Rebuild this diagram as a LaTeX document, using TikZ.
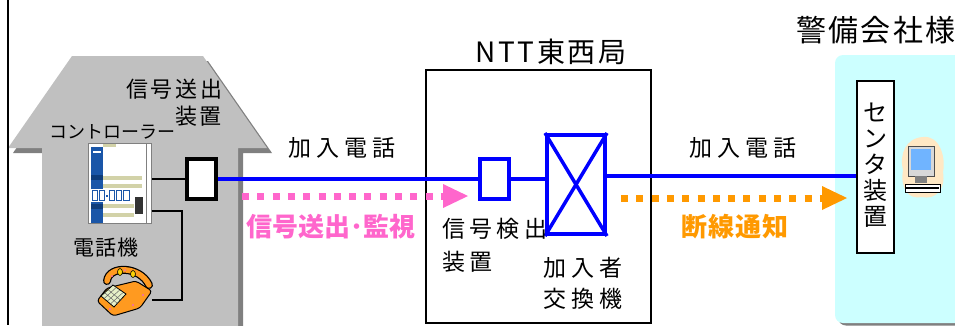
\documentclass[tikz,border=0pt]{standalone}
\usepackage{fontspec}
\usetikzlibrary{arrows.meta}
\newfontfamily\jp{Noto Sans CJK JP}
% size, baselineskip, letter spacing (percent of em)
\newcommand\jpset[3]{\jp\fontsize{#1}{#2}\selectfont\addfontfeatures{LetterSpace=#3}}
\newcommand\jpbold[3]{\jp\bfseries\fontsize{#1}{#2}\selectfont\addfontfeatures{LetterSpace=#3}}
\definecolor{roofgray}{HTML}{C0C0C0}
\definecolor{shadegray}{HTML}{808080}
\definecolor{linkblue}{HTML}{0000FF}
\definecolor{sigpink}{HTML}{FF66CC}
\definecolor{alertorange}{HTML}{FF9900}
\definecolor{officecyan}{HTML}{CCFFFF}
\definecolor{khaki}{HTML}{D2D2A8}
\definecolor{panelblue}{HTML}{1A56A8}
\definecolor{deepblue}{HTML}{0E3C7A}
\definecolor{darkpanel}{HTML}{333333}
\definecolor{peach}{HTML}{FFE8C4}
\definecolor{screenblue}{HTML}{70B4FF}
\definecolor{screenframe}{HTML}{D8D8D8}
\definecolor{phoneorange}{HTML}{FF9A20}
\definecolor{keypad}{HTML}{E6F0C8}
\begin{document}
\begin{tikzpicture}[x=1pt,y=-1pt,
  txt/.style={inner sep=0pt,outer sep=0pt},
  wire/.style={line width=2pt,draw=black},
  bluelink/.style={line width=3.5pt,draw=linkblue},
  bluebox/.style={draw=linkblue,line width=3.5pt,fill=white,inner sep=0pt},
  flow/.style={line width=7pt,draw=#1,dash pattern=on 7pt off 8.3pt,
    -{Triangle[length=25pt,width=24pt,line width=0pt]}}
]
\useasboundingbox (0,0) rectangle (955,325);

% ---- house of the subscriber ----
\fill[shadegray,shift={(5,5)}] (8,148) -- (72,56) -- (203,56) -- (267,148)
  -- (238,148) -- (238,340) -- (42,340) -- (42,148) -- cycle;
\fill[roofgray] (8,148) -- (72,56) -- (203,56) -- (267,148)
  -- (238,148) -- (238,340) -- (42,340) -- (42,148) -- cycle;
\draw[line width=1.8pt] (8.3,0) -- (8.3,325);

% ---- security company area ----
\fill[shadegray,rounded corners=8pt] (838,58) rectangle (975,325.5);
\fill[officecyan,rounded corners=8pt] (835,55) rectangle (975,323);

% ---- telephone exchange building ----
\node[draw,line width=1.8pt,minimum width=225pt,minimum height=253pt,inner sep=0pt]
  (ntt) at (538.5,196.5) {};

% ---- equipment ----
\node[draw=shadegray,line width=1pt,fill=white,minimum width=63pt,minimum height=80pt,inner sep=0pt]
  (ctrl) at (119.5,183) {};
\node[draw,line width=3.8pt,fill=white,minimum width=29pt,minimum height=40pt,inner sep=0pt]
  (sender) at (201.5,179) {};
\node[bluebox,minimum width=29pt,minimum height=40pt] (detect) at (494.5,179) {};
\node[bluebox,line width=4pt,minimum width=58pt,minimum height=99pt] (switch) at (576,184.5) {};
\draw[linkblue,line width=3.5pt] (switch.north west) -- (switch.south east)
  (switch.north east) -- (switch.south west);
\node[draw,line width=2.5pt,fill=white,minimum width=37pt,minimum height=172pt,inner sep=0pt]
  (center) at (875.5,167) {};
\node[txt,font=\jpset{24}{26}{0},align=center] (centerlbl) at (875.5,165) {セ\\ン\\タ\\装\\置};
\coordinate (phone) at (152,300);

% controller panel details
\fill[khaki] (103,143.8) rectangle (116,146.5);
\draw[shadegray,line width=0.8pt] (146,143.5) -- (146,222.5);
\fill[panelblue] (91,147) rectangle (103,222.5);
\fill[white] (93,151) rectangle (101,153);
\fill[deepblue] (91,175) rectangle (103,180);
\fill[deepblue] (91,204) rectangle (103,209);
\fill[khaki] (103,176) rectangle (142,180);
\fill[khaki] (103,184) rectangle (142,188);
\fill[khaki] (103,204) rectangle (134,208);
\fill[khaki] (103,213) rectangle (134,217);
\fill[white] (91,189) rectangle (131,202);
\foreach \a/\b in {92/97,99/104,109/114,116/121,123/129}
  \draw[panelblue,line width=0.9pt] (\a,190.5) rectangle (\b,200.5);
\fill[panelblue] (105.5,194.5) rectangle (107.5,196.5);
\fill[darkpanel] (135,197) rectangle (143,214);

% telephone set
\filldraw[fill=phoneorange,draw=black,line width=1pt,rounded corners=3pt]
  (97,301) -- (107,288) -- (136,281) -- (152,291) -- (140,308) -- (113,316) -- cycle;
\filldraw[fill=keypad,draw=black,line width=0.8pt] (101,296) -- (113,285) -- (126,294) -- (114,307) -- cycle;
\draw[black!60,line width=0.5pt] (104.2,298.5) -- (116.2,287.5) (107.5,301) -- (119.5,290.2)
  (110.7,303.7) -- (122.8,292.7) (105,293) -- (117.5,303.5) (108.5,290) -- (121,300.5);
\draw[line width=8pt,black,line cap=round] (107,281) .. controls (109,265) and (140,266) .. (149,285);
\draw[line width=5.5pt,phoneorange,line cap=round] (107,281) .. controls (109,265) and (140,266) .. (149,285);
\filldraw[fill=yellow!70!orange,draw=black,line width=0.6pt] (120,272) ellipse [x radius=2.5pt,y radius=3.5pt];
\filldraw[fill=yellow!70!orange,draw=black,line width=0.6pt] (133,274) ellipse [x radius=2.5pt,y radius=3.5pt];
\fill[magenta!60] (110,309) circle [radius=1.2pt] (133,305) circle [radius=1.2pt] (143,295) circle [radius=1.2pt]
  (125,270) circle [radius=1pt] (112,276) circle [radius=1pt];

% terminal at the centre
\fill[peach] (923,137) .. controls (940,135) and (946,158) .. (943,172)
  .. controls (946,190) and (935,200) .. (922,197)
  .. controls (908,200) and (900,188) .. (903,170)
  .. controls (899,154) and (906,138) .. (923,137) -- cycle;
\filldraw[fill=screenframe,draw=black!70,line width=0.8pt] (908,146) rectangle (934,176);
\fill[screenblue] (911,149) rectangle (931,170);
\fill[black!50] (915,176) rectangle (927,183);
\filldraw[fill=white,draw=black,line width=0.8pt] (905,184) rectangle (940,192);
\fill[black] (906,186.5) rectangle (939,188.5);

% ---- connections ----
\draw[wire] (sender.west) -- (sender.west -| ctrl.east);
\draw[wire] ([yshift=-28pt]ctrl.east) -- ++(30,0) |- (phone);
\draw[bluelink] (sender.east) -- (detect.west);
\draw[bluelink] (detect.east) -- (detect.east -| switch.west);
\draw[bluelink] ([yshift=8.5pt]switch.east) -- ([yshift=8.5pt]switch.east -| center.west);

\coordinate (pinkfrom) at (242,196);
\coordinate (pinkto) at (468,196);
\coordinate (orangefrom) at (621,198);
\coordinate (orangeto) at (847,198);
\draw[flow=sigpink] (pinkfrom) -- (pinkto);
\draw[flow=alertorange] (orangefrom) -- (orangeto);

% ---- labels ----
\node[txt,font=\jpset{22}{27.5}{12},align=right,anchor=north east] (senderlbl) at (222,79) {信号送出\\装置};
\node[txt,font=\jpset{18}{22}{0}] (ctrllbl) at (112.5,132) {コントローラー};
\node[txt,font=\jpset{21}{25}{7}] (phonelbl) at (106,247.5) {電話機};
\node[txt,font=\jpset{23}{28}{23}] (linelbl) at (342,147.5) {加入電話};
\node[txt,font=\jpset{28}{30}{9}] (nttlbl) at (551,52) {NTT東西局};
\node[txt,font=\jpset{23}{33.5}{19},align=left,anchor=north west] (detectlbl) at (442,218) {信号検出\\装置};
\node[txt,font=\jpset{23}{31}{22},align=left,anchor=north west] (switchlbl) at (543,257) {加入者\\交換機};
\node[txt,font=\jpset{23}{28}{23}] (line2lbl) at (743,147.5) {加入電話};
\node[txt,font=\jpset{30}{34}{7}] (officelbl) at (876,30) {警備会社様};
\node[txt,font=\jpbold{26}{30}{0},text=sigpink] (siglbl) at (331,226.5) {信号送出･監視};
\node[txt,font=\jpbold{26}{30}{4},text=alertorange] (cutlbl) at (735,226.5) {断線通知};
\end{tikzpicture}
\end{document}
